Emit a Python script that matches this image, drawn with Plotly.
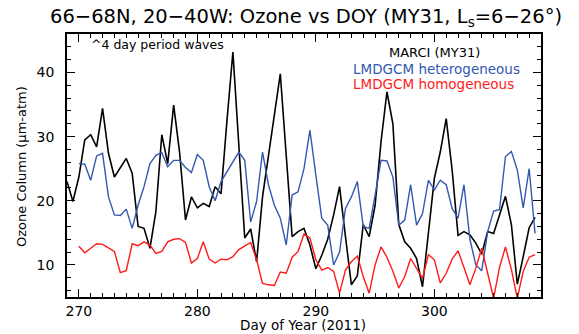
import plotly.graph_objects as go

# Day of year (0.5-day sampling)
doy_marci = [269.0 + 0.5 * i for i in range(80)]
marci = [23.0, 19.9, 23.7, 29.5, 30.3, 28.4, 34.4, 27.4, 23.7, 25.2,
         26.6, 24.3, 16.0, 15.7, 12.6, 18.3, 30.3, 25.8, 34.9, 27.6,
         17.0, 20.6, 18.9, 19.6, 19.1, 22.2, 21.1, 32.5, 43.2, 28.7,
         14.2, 15.6, 10.5, 20.6, 27.1, 33.9, 39.8, 27.1, 14.4, 15.2,
         15.7, 13.1, 9.4, 11.5, 14.0, 17.8, 22.2, 14.4, 6.9, 8.3,
         16.3, 14.4, 19.3, 29.2, 37.0, 32.0, 16.3, 13.6, 12.6, 11.0,
         6.6, 15.0, 23.5, 27.6, 32.8, 24.8, 14.6, 15.2, 14.7, 13.4,
         11.7, 15.2, 14.9, 17.8, 20.7, 16.3, 7.0, 11.3, 15.8, 17.4]

doy_gcm = [270.0 + 0.5 * i for i in range(78)]
hetero = [25.8, 25.7, 23.2, 27.0, 27.4, 20.6, 17.8, 17.7, 18.7, 15.7,
          19.3, 22.2, 25.8, 27.1, 27.5, 25.3, 26.3, 26.3, 25.2, 24.4,
          27.2, 26.3, 22.2, 20.0, 23.0, 24.5, 26.1, 27.6, 26.3, 16.7,
          19.9, 27.6, 22.5, 19.3, 17.3, 13.1, 20.9, 21.4, 25.0, 31.0,
          24.0, 17.3, 16.2, 10.0, 12.0, 18.8, 20.6, 23.0, 16.0, 15.7,
          20.9, 26.3, 26.2, 23.7, 16.2, 17.0, 22.5, 16.2, 18.0, 23.2,
          21.7, 23.2, 22.5, 18.8, 17.3, 22.5, 14.0, 10.0, 9.1, 15.2,
          18.4, 18.6, 26.9, 27.7, 24.8, 18.9, 25.0, 14.9]
homo = [12.9, 11.9, 12.6, 13.3, 13.2, 12.7, 12.1, 8.8, 9.1, 13.3,
        13.0, 13.6, 13.1, 11.8, 12.1, 13.6, 14.0, 14.1, 13.5, 10.3,
        11.0, 13.6, 10.9, 10.3, 10.9, 10.8, 11.3, 12.4, 12.9, 13.5,
        10.8, 7.1, 6.9, 6.8, 8.9, 8.7, 11.2, 12.1, 14.8, 14.2,
        10.8, 9.2, 9.6, 9.0, 5.6, 9.2, 10.5, 11.4, 8.2, 5.6,
        10.0, 12.8, 11.2, 9.0, 6.4, 8.2, 11.0, 9.5, 7.9, 11.6,
        10.8, 7.2, 8.7, 10.9, 12.2, 9.6, 6.9, 9.5, 12.6, 8.7,
        4.8, 9.6, 12.8, 9.3, 4.8, 9.0, 11.2, 11.6]

x_ticks = [270, 280, 290, 300]
y_ticks = [10, 20, 30, 40]

FONT = "DejaVu Sans"
BLUE = "#3358b0"
RED = "#ff1a1a"

fig = go.Figure()
fig.add_trace(go.Scatter(x=doy_marci, y=marci, mode="lines",
                         line=dict(color="black", width=1.6), name="MARCI (MY31)"))
fig.add_trace(go.Scatter(x=doy_gcm, y=hetero, mode="lines",
                         line=dict(color=BLUE, width=1.4), name="LMDGCM heterogeneous"))
fig.add_trace(go.Scatter(x=doy_gcm, y=homo, mode="lines",
                         line=dict(color=RED, width=1.4), name="LMDGCM homogeneous"))

axis_common = dict(showgrid=False, zeroline=False, showline=True, linecolor="black",
                   linewidth=1.5, mirror="allticks", ticks="inside", tickcolor="black",
                   tickwidth=1, ticklen=8,
                   tickfont=dict(family=FONT, size=14, color="black"))

fig.update_xaxes(range=[269, 309], tickvals=x_ticks, ticktext=[str(v) for v in x_ticks],
                 minor=dict(dtick=1, tick0=269, ticks="inside", ticklen=4, tickcolor="black"),
                 ticklabelstandoff=0,
                 **axis_common)
fig.update_yaxes(range=[5, 46], tickvals=y_ticks, ticktext=[str(v) for v in y_ticks],
                 minor=dict(dtick=2, tick0=0, ticks="inside", ticklen=4, tickcolor="black"),
                 ticklabelstandoff=8,
                 **axis_common)

L, R, T, B = 67, 38, 34, 37
W, H = 579, 334
pw, ph = W - L - R, H - T - B

def px(x):
    return (x - L) / pw

def py(y):
    return (H - B - y) / ph

annotations = [
    dict(text="^4 day period waves", x=px(89), y=py(44), xanchor="left", yanchor="middle",
         font=dict(family=FONT, size=12.5, color="black")),
    dict(text="MARCI (MY31)", x=px(434), y=py(53), xanchor="center", yanchor="middle",
         font=dict(family=FONT, size=13, color="black")),
    dict(text="LMDGCM heterogeneous", x=px(351), y=py(69), xanchor="left", yanchor="middle",
         font=dict(family=FONT, size=13.5, color=BLUE)),
    dict(text="LMDGCM homogeneous", x=px(351), y=py(84), xanchor="left", yanchor="middle",
         font=dict(family=FONT, size=13.5, color=RED)),
    dict(text="66−68N, 20−40W: Ozone vs DOY (MY31, L<sub>s</sub>=6−26°)", x=px(306), y=py(17),
         xanchor="center", yanchor="middle",
         font=dict(family=FONT, size=19.5, color="black")),
    dict(text="Day of Year (2011)", x=px(303), y=py(333.5), xanchor="center", yanchor="bottom",
         borderpad=0,
         font=dict(family=FONT, size=13.5, color="black")),
    dict(text="Ozone Column (μm-atm)", x=px(21), y=py(167), xanchor="center", yanchor="middle",
         textangle=-90, font=dict(family=FONT, size=13, color="black")),
]
for a in annotations:
    a.update(xref="paper", yref="paper", showarrow=False)

fig.update_layout(width=W, height=H, margin=dict(l=L, r=R, t=T, b=B),
                  paper_bgcolor="white", plot_bgcolor="white", showlegend=False,
                  annotations=annotations)

fig.write_html("out.html")
